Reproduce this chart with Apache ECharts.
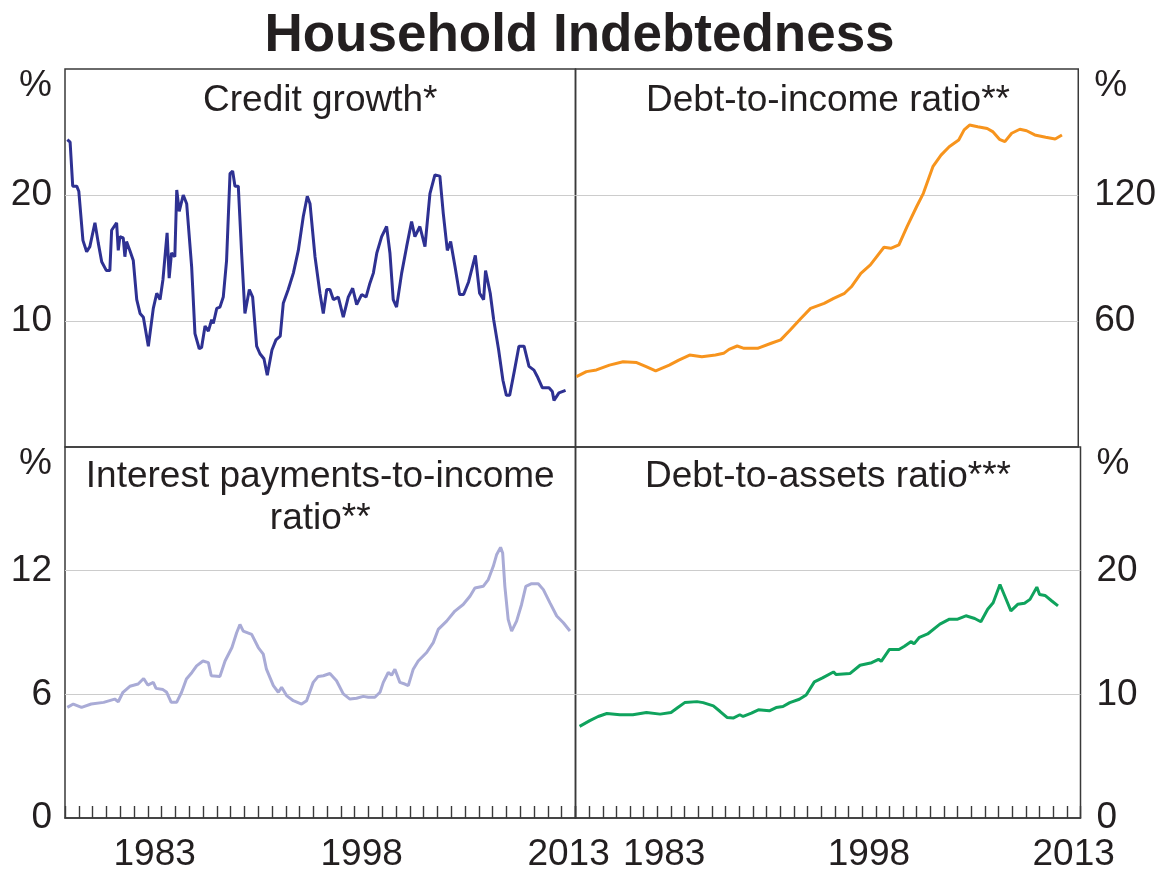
<!DOCTYPE html>
<html>
<head>
<meta charset="utf-8">
<script src="https://cdn.jsdelivr.net/npm/echarts@6/dist/echarts.min.js"></script>
<style>
html,body{margin:0;padding:0;background:#fff;}
#chart{width:1159px;height:873px;}
</style>
</head>
<body>
<div id="chart"></div>
<script>
// ---- Data ----
const yearCategories = ['1977','1978','1979','1980','1981','1982','1983','1984','1985','1986','1987','1988','1989','1990','1991','1992','1993','1994','1995','1996','1997','1998','1999','2000','2001','2002','2003','2004','2005','2006','2007','2008','2009','2010','2011','2012','2013'];
const yearLabels = ['1983','1998','2013'];

const creditYears = [1977.17,1977.37,1977.56,1977.85,1978.0,1978.1,1978.3,1978.57,1978.8,1979.17,1979.41,1979.66,1980.0,1980.25,1980.38,1980.74,1980.86,1980.98,1981.22,1981.34,1981.46,1981.7,1981.95,1982.2,1982.44,1982.68,1983.04,1983.4,1983.65,1983.89,1984.1,1984.4,1984.55,1984.72,1984.96,1985.1,1985.28,1985.57,1985.82,1986.18,1986.42,1986.73,1986.9,1987.15,1987.39,1987.63,1987.75,1988.0,1988.23,1988.47,1988.71,1988.96,1989.15,1989.32,1989.56,1989.8,1990.04,1990.36,1990.6,1990.89,1991.13,1991.42,1991.66,1992.0,1992.29,1992.6,1992.82,1993.18,1993.55,1993.91,1994.27,1994.56,1994.76,1995.12,1995.48,1995.72,1995.97,1996.2,1996.45,1996.81,1997.17,1997.53,1997.85,1998.14,1998.5,1998.82,1999.1,1999.35,1999.6,1999.95,2000.31,2000.55,2000.79,2001.03,2001.4,2001.76,2002.12,2002.36,2002.72,2003.09,2003.45,2003.81,2004.17,2004.42,2004.71,2004.95,2005.27,2005.6,2005.89,2006.25,2006.74,2007.05,2007.34,2007.48,2007.82,2008.07,2008.43,2008.74,2008.99,2009.23,2009.58,2009.9,2010.27,2010.63,2010.99,2011.23,2011.6,2012.08,2012.32,2012.44,2012.8,2013.28];
const creditValues = [24.4,24.2,20.7,20.7,20.3,20.3,16.4,15.5,15.9,17.8,16.2,14.7,14.0,14.0,17.2,17.8,15.6,16.7,16.6,15.1,16.3,15.6,14.8,11.7,10.6,10.3,8.0,11.0,12.2,11.7,13.3,17.0,13.4,15.4,15.1,20.4,18.7,20.0,19.3,14.3,9.0,7.8,7.9,9.6,9.2,10.1,9.8,11.0,11.1,11.9,14.8,21.7,21.9,20.7,20.7,15.4,10.6,12.5,11.9,8.0,7.4,7.0,5.7,7.7,8.5,8.8,11.4,12.5,13.8,15.6,18.3,19.9,19.3,15.1,12.2,10.6,12.5,12.5,11.7,11.9,10.3,11.9,12.6,11.3,12.1,11.9,13.0,13.8,15.4,16.7,17.5,15.4,11.7,11.1,13.8,15.9,17.9,16.7,17.5,15.9,20.1,21.6,21.5,18.5,15.6,16.3,14.3,12.1,12.1,13.1,15.2,12.2,11.7,14.0,12.2,10.1,7.7,5.3,4.1,4.1,6.1,8.0,8.0,6.4,6.1,5.6,4.7,4.7,4.4,3.7,4.3,4.5];

const dtiYears = [1977.07,1977.8,1978.54,1979.5,1980.5,1981.5,1982.2,1982.9,1983.9,1984.6,1985.4,1986.3,1987.3,1987.9,1988.3,1988.9,1989.4,1990.4,1991.4,1992.1,1992.8,1993.6,1994.3,1995.3,1996.0,1996.8,1997.3,1998.0,1998.7,1999.7,2000.2,2000.8,2001.4,2002.1,2002.6,2003.3,2003.9,2004.5,2005.2,2005.6,2006.0,2006.6,2007.3,2007.7,2008.2,2008.6,2009.1,2009.7,2010.2,2010.8,2011.6,2012.3,2012.8];
const dtiValues = [33.5,35.9,36.7,39.0,40.6,40.2,38.3,36.3,39.0,41.4,43.8,43.0,43.8,44.6,46.5,48.1,47.0,47.0,49.4,51.0,55.7,61.3,66.0,68.4,70.8,73.2,76.3,82.7,86.7,95.1,94.6,96.2,104.9,114.4,120.8,133.5,139.0,143.0,146.2,151.0,153.3,152.5,151.7,150.2,146.5,145.4,149.4,151.3,150.6,148.6,147.5,146.7,148.6];

const ipiYears = [1977.17,1977.6,1978.2,1978.9,1979.8,1980.6,1980.86,1981.2,1981.7,1982.3,1982.7,1983.0,1983.4,1983.6,1984.1,1984.37,1984.7,1985.09,1985.45,1985.8,1986.2,1986.54,1987.0,1987.39,1987.6,1988.23,1988.6,1989.1,1989.44,1989.68,1989.92,1990.53,1991.01,1991.37,1991.6,1992.1,1992.46,1992.7,1993.06,1993.55,1994.15,1994.51,1994.99,1995.35,1995.72,1996.2,1996.68,1997.17,1997.65,1998.13,1998.62,1998.98,1999.46,1999.83,2000.07,2000.43,2000.67,2000.91,2001.27,2001.63,2001.88,2002.24,2002.6,2003.21,2003.69,2004.05,2004.66,2005.26,2005.86,2006.35,2006.71,2007.31,2007.68,2008.04,2008.28,2008.57,2008.72,2008.88,2009.12,2009.37,2009.73,2010.09,2010.4,2010.82,2011.3,2011.67,2012.15,2012.64,2013.12,2013.6];
const ipiValues = [5.37,5.53,5.37,5.53,5.61,5.77,5.64,6.1,6.39,6.5,6.77,6.45,6.58,6.29,6.23,6.1,5.61,5.61,6.1,6.74,7.06,7.38,7.62,7.54,6.9,6.87,7.62,8.27,8.99,9.39,9.07,8.91,8.27,7.95,7.22,6.42,6.1,6.34,5.94,5.69,5.53,5.69,6.58,6.87,6.9,7.01,6.66,6.02,5.77,5.81,5.9,5.86,5.86,6.1,6.58,7.06,6.93,7.22,6.58,6.5,6.42,7.22,7.62,8.03,8.51,9.15,9.55,10.04,10.36,10.76,11.16,11.24,11.57,12.21,12.77,13.13,12.86,11.24,9.64,9.07,9.55,10.36,11.24,11.37,11.37,11.08,10.44,9.8,9.47,9.07];

const dtaYears = [1977.3,1978.05,1978.66,1979.3,1980.25,1981.2,1982.2,1983.2,1984.0,1984.5,1985.0,1985.9,1986.35,1987.1,1987.6,1988.1,1988.55,1989.04,1989.28,1989.89,1990.4,1991.2,1991.7,1992.2,1992.7,1993.4,1993.9,1994.5,1995.1,1995.9,1996.1,1997.1,1997.85,1998.7,1999.2,1999.4,2000.0,2000.7,2001.1,2001.6,2001.8,2002.2,2002.8,2003.7,2004.4,2005.0,2005.6,2006.25,2006.7,2007.2,2007.6,2008.1,2008.45,2008.9,2009.4,2009.9,2010.3,2010.8,2011.0,2011.4,2011.9,2012.35];
const dtaValues = [7.41,7.87,8.21,8.45,8.35,8.35,8.53,8.4,8.53,8.93,9.33,9.41,9.33,9.07,8.61,8.13,8.08,8.35,8.21,8.48,8.75,8.67,8.93,9.01,9.33,9.6,9.95,11.01,11.33,11.81,11.6,11.68,12.35,12.56,12.83,12.67,13.63,13.63,13.89,14.27,14.08,14.61,14.88,15.68,16.08,16.08,16.35,16.13,15.87,16.88,17.41,18.88,17.95,16.75,17.28,17.36,17.68,18.67,18.08,18.0,17.55,17.15];

function pairs(xs, ys){ return xs.map((x,i)=>[x, ys[i]]); }

// ---- Layout ----
const L = 65, MID = 575.5, R = 1080.5, TOP = 69, HMID = 447, BOT = 820;
const FONT = '"Liberation Sans", Arial, sans-serif';
const TXT = '#231f20';
const FRAME = '#3a3a3a';

const grids = [
  {left: L, top: TOP, width: MID-L, height: HMID-TOP},
  {left: MID, top: TOP, width: R-MID, height: HMID-TOP},
  {left: L, top: HMID, width: MID-L, height: BOT-HMID},
  {left: MID, top: HMID, width: R-MID, height: BOT-HMID}
].map(g => Object.assign(g, {show: true, borderColor: FRAME, borderWidth: 1.5, backgroundColor: 'transparent', containLabel: false}));

function valueX(gi){
  return {type: 'value', gridIndex: gi, min: 1977, max: 2014, show: false};
}
function catX(gi){
  return {
    type: 'category', gridIndex: gi, data: yearCategories, boundaryGap: true, position: 'bottom',
    axisLine: {show: true, lineStyle: {color: FRAME, width: 1.5}},
    axisTick: {show: true, inside: true, length: 12, interval: 0, alignWithLabel: false, lineStyle: {color: FRAME, width: 1.4}},
    axisLabel: {
      show: true, interval: (idx, val) => yearLabels.indexOf(val) >= 0,
      fontFamily: FONT, fontSize: 37, color: TXT, margin: 18
    },
    splitLine: {show: false}
  };
}
function yAxis(gi, max, interval, side, showZero){
  return {
    type: 'value', gridIndex: gi, min: 0, max: max, interval: interval, position: side,
    axisLine: {show: false}, axisTick: {show: false},
    axisLabel: {
      fontFamily: FONT, fontSize: 37, color: TXT, margin: side === 'left' ? 13 : 16,
      formatter: v => {
        if (v === max) return '{u|%}';
        if (v === 0) return showZero ? '0' : '';
        return String(v);
      },
      rich: {u: {fontFamily: FONT, fontSize: 37, color: TXT, padding: [34, 0, 0, 0]}}
    },
    splitLine: {show: true, showMinLine: false, showMaxLine: false, lineStyle: {color: '#cccccc', width: 1.2}}
  };
}

function panelTitle(text, cx, top){
  return {text: text, left: cx, top: top, textAlign: 'center', padding: 0,
    textStyle: {fontFamily: FONT, fontSize: 37, fontWeight: 'normal', color: TXT, lineHeight: 42}};
}

const option = {
  animation: false,
  backgroundColor: '#ffffff',
  title: [
    {text: 'Household Indebtedness', left: 'center', top: 10, padding: 0,
      textStyle: {fontFamily: FONT, fontSize: 53, fontWeight: 'bold', color: TXT}},
    panelTitle('Credit growth*', (L+MID)/2, 80),
    panelTitle('Debt-to-income ratio**', (MID+R)/2, 80),
    panelTitle('Interest payments-to-income\nratio**', (L+MID)/2, 456),
    panelTitle('Debt-to-assets ratio***', (MID+R)/2, 456)
  ],
  grid: grids,
  xAxis: [valueX(0), valueX(1), valueX(2), valueX(3), catX(2), catX(3)],
  yAxis: [
    yAxis(0, 30, 10, 'left', false),
    yAxis(1, 180, 60, 'right', false),
    yAxis(2, 18, 6, 'left', true),
    yAxis(3, 30, 10, 'right', true)
  ],
  series: [
    {type: 'line', xAxisIndex: 0, yAxisIndex: 0, data: pairs(creditYears, creditValues), showSymbol: false,
      lineStyle: {color: '#2e3192', width: 3}, z: 3},
    {type: 'line', xAxisIndex: 1, yAxisIndex: 1, data: pairs(dtiYears, dtiValues), showSymbol: false,
      lineStyle: {color: '#f7941d', width: 3}, z: 3},
    {type: 'line', xAxisIndex: 2, yAxisIndex: 2, data: pairs(ipiYears, ipiValues), showSymbol: false,
      lineStyle: {color: '#a9abd6', width: 3}, z: 3},
    {type: 'line', xAxisIndex: 3, yAxisIndex: 3, data: pairs(dtaYears, dtaValues), showSymbol: false,
      lineStyle: {color: '#0fa35d', width: 3}, z: 3}
  ]
};

const chart = echarts.init(document.getElementById('chart'), null, {renderer: 'canvas'});
chart.setOption(option);
</script>
</body>
</html>
